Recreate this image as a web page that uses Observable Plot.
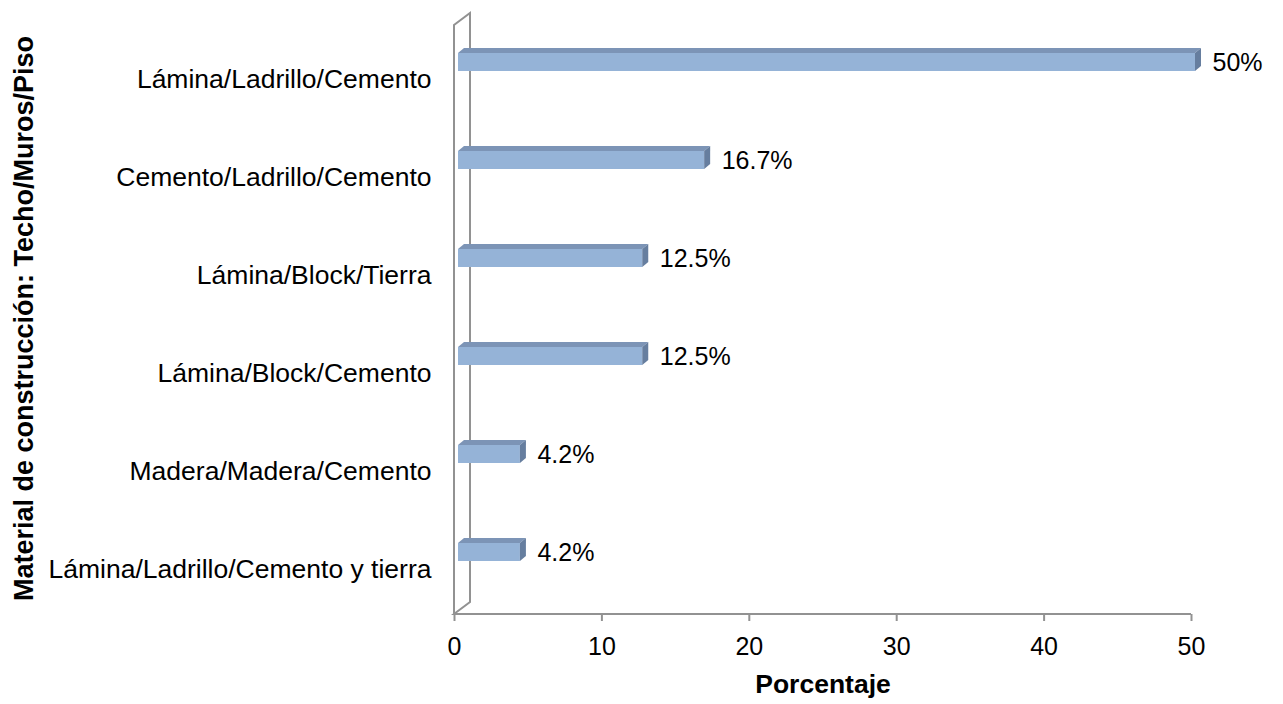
<!DOCTYPE html>
<html>
<head>
<meta charset="utf-8">
<script src="https://cdn.jsdelivr.net/npm/d3@7"></script>
<script src="https://cdn.jsdelivr.net/npm/@observablehq/plot@0.6"></script>
<style>
  body { margin: 0; background: #fff; }
</style>
</head>
<body>
<div id="chart"></div>
<script>
// Construction materials (roof / walls / floor) and their share of homes
const categories = [
  "Lámina/Ladrillo/Cemento",
  "Cemento/Ladrillo/Cemento",
  "Lámina/Block/Tierra",
  "Lámina/Block/Cemento",
  "Madera/Madera/Cemento",
  "Lámina/Ladrillo/Cemento y tierra"
];
const percentages = [50, 16.7, 12.5, 12.5, 4.2, 4.2];
const valueLabels = ["50%", "16.7%", "12.5%", "12.5%", "4.2%", "4.2%"];
const xTicks = [0, 10, 20, 30, 40, 50];
const xTitle = "Porcentaje";
const yTitle = "Material de construcción: Techo/Muros/Piso";

const rows = categories.map((category, i) => ({
  category,
  value: percentages[i],
  label: valueLabels[i]
}));

// Colours and pseudo-3D geometry
const FRONT = "#95b3d7", TOP = "#7c94b6", SIDE = "#667e9f", WALL = "#929292";
const SHIFT = 4;        // bars sit slightly inside the wall depth
const DX = 6, DY = 5;   // depth offset of top and side faces
const BAR_INSET = 40;   // thin bars inside each band

// Side wall and floor line of the 3-D plot area
function wall(index, scales, values, dims) {
  const x0 = scales.x(0), x1 = scales.x(xTicks[xTicks.length - 1]);
  const bottom = dims.height - dims.marginBottom, top = dims.marginTop;
  const g = d3.create("svg:g")
    .attr("fill", "none")
    .attr("stroke", WALL)
    .attr("stroke-width", 2);
  g.append("path").attr("d",
    `M${x0},${bottom}V${top + 13}L${x0 + 16},${top + 1}V${bottom - 12}L${x0},${bottom}H${x1}`);
  return g.node();
}

// Top and end faces of each bar, placed with the chart's scales
function barFaces(index, scales) {
  const step = scales.y(categories[1]) - scales.y(categories[0]);
  const g = d3.create("svg:g");
  rows.forEach(r => {
    const xa = scales.x(0) + SHIFT, xb = scales.x(r.value) + SHIFT;
    const yt = scales.y(r.category) + BAR_INSET;
    const yb = scales.y(r.category) + step - BAR_INSET;
    g.append("polygon")
      .attr("points", [[xa, yt], [xa + DX, yt - DY], [xb + DX, yt - DY], [xb, yt]].join(" "))
      .attr("fill", TOP);
    g.append("polygon")
      .attr("points", [[xb, yt], [xb + DX, yt - DY], [xb + DX, yb - DY], [xb, yb]].join(" "))
      .attr("fill", SIDE);
  });
  return g.node();
}

const chart = Plot.plot({
  width: 1283,
  height: 704,
  marginLeft: 454,
  marginRight: 92,
  marginTop: 12,
  marginBottom: 90,
  style: {
    fontFamily: "'Liberation Sans', Arial, sans-serif",
    fontSize: "25px",
    color: "black",
    background: "white"
  },
  x: { domain: [0, 50] },
  y: { domain: categories, padding: 0, insetBottom: 13 },
  marks: [
    wall,
    Plot.axisX({
      ticks: xTicks, tickSize: 7, tickPadding: 16,
      stroke: WALL, strokeWidth: 2, fill: "black", fontSize: 25, label: null
    }),
    Plot.axisY({
      tickSize: 0, tickPadding: 23, dy: 17, fill: "black", fontSize: 26.5, label: null
    }),
    Plot.barX(rows, {
      x: "value", y: "category", dx: SHIFT,
      insetTop: BAR_INSET, insetBottom: BAR_INSET, fill: FRONT
    }),
    barFaces,
    Plot.text(rows, {
      x: "value", y: "category", text: "label",
      dx: 21, textAnchor: "start", fontSize: 25, fill: "black"
    }),
    Plot.text([xTitle], {
      text: d => d, frameAnchor: "bottom", dy: 78,
      fontWeight: "bold", fontSize: 26.5, fill: "black"
    }),
    Plot.text([yTitle], {
      text: d => d, frameAnchor: "left", textAnchor: "middle",
      dx: -430, dy: 5, rotate: -90,
      fontWeight: "bold", fontSize: 27, fill: "black"
    })
  ]
});

document.getElementById("chart").appendChild(chart);
</script>
</body>
</html>
